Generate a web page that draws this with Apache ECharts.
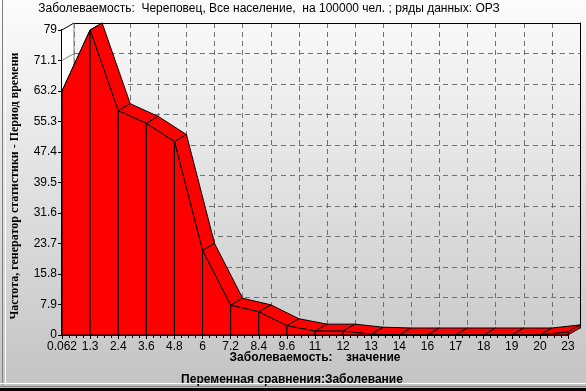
<!DOCTYPE html>
<html><head><meta charset="utf-8">
<script src="https://cdn.jsdelivr.net/npm/echarts@6/dist/echarts.min.js"></script>
<style>html,body{margin:0;padding:0;background:#fff}#c{width:586px;height:391px;}</style>
</head><body><div id="c"></div>
<script>
const categories = ['0.062','1.3','2.4','3.6','4.8','6','7.2','8.4','9.6','11','12','13','14','16','17','18','19','20','23'];
const values = [63.2, 79, 58.1, 54.8, 50.1, 21.9, 7.7, 6.0, 2.4, 1.0, 1.0, 0.2, 0, 0, 0, 0, 0, 0, 0.8];
const yTicks = [0, 7.9, 15.8, 23.7, 31.6, 39.5, 47.4, 55.3, 63.2, 71.1, 79];
const titleText = 'Заболеваемость:  Череповец, Все население,  на 100000 чел. ; ряды данных: ОРЗ';
const yName = 'Частота, генератор статистики - Период времени';
const xName = 'Заболеваемость:    значение';
const xName2 = 'Переменная сравнения:Заболевание';

const DX = 12, DY = -7;
const RED = '#ff0000';
const yMax = yTicks[yTicks.length - 1];
const nCat = categories.length;
const segData = values.map((v, i) => [i, v, i + 1 < values.length ? values[i + 1] : v, i + 1 < values.length ? 1 : 0]);
const fmtY = v => String(+(+v).toFixed(1));

const chart = echarts.init(document.getElementById('c'), null, {renderer: 'canvas'});
const off = p => [p[0] + DX, p[1] + DY];

chart.setOption({
  animation: false,
  backgroundColor: new echarts.graphic.LinearGradient(0, 0, 0, 1, [
    {offset: 0, color: '#fcfcfc'}, {offset: 1, color: '#c3c3c3'}
  ]),
  grid: [
    {left: 62, right: 18, top: 30, bottom: 56},
    {left: 74, right: 6, top: 23, bottom: 63}
  ],
  xAxis: [
    {gridIndex: 0, type: 'value', min: 0, max: nCat - 1, interval: 1,
     axisLine: {show: true, onZero: false, lineStyle: {color: '#000', width: 1}},
     axisTick: {show: true, length: 4, lineStyle: {color: '#000'}},
     minorTick: {show: true, splitNumber: 4, length: 3, lineStyle: {color: '#000'}},
     axisLabel: {formatter: v => categories[Math.round(v)], color: '#000', fontSize: 12, margin: 6,
                 fontFamily: 'Liberation Sans', showMinLabel: true, showMaxLabel: true},
     splitLine: {show: false}},
    {gridIndex: 1, type: 'value', min: 0, max: nCat - 1, interval: 1, position: 'top',
     axisLine: {show: true, onZero: false, lineStyle: {color: '#000', width: 1}},
     axisTick: {show: false}, axisLabel: {show: false},
     splitLine: {show: true, lineStyle: {color: '#707070', type: [5, 4], width: 1}}}
  ],
  yAxis: [
    {gridIndex: 0, type: 'value', min: 0, max: yMax, interval: yTicks[1],
     axisLine: {show: true, onZero: false, lineStyle: {color: '#000', width: 2}},
     axisTick: {show: true, length: 4, lineStyle: {color: '#000'}},
     axisLabel: {formatter: fmtY, color: '#000', fontSize: 12, margin: 5, fontFamily: 'Liberation Sans'},
     splitLine: {show: false}},
    {gridIndex: 1, type: 'value', min: 0, max: yMax, interval: yTicks[1], position: 'right',
     axisLine: {show: true, onZero: false, lineStyle: {color: '#000', width: 1}},
     axisTick: {show: false}, axisLabel: {show: false},
     splitLine: {show: true, lineStyle: {color: '#707070', type: [5, 4], width: 1}}}
  ],
  series: [
    { // left wall
      type: 'custom', xAxisIndex: 0, yAxisIndex: 0, z: 3, clip: false, silent: true,
      data: yTicks.map(t => [0, t]),
      renderItem: (params, api) => {
        const p = api.coord([0, api.value(1)]);
        const children = [];
        if (params.dataIndex === 0) {
          const b = api.coord([0, 0]), t = api.coord([0, yMax]);
          children.push({type: 'polygon', shape: {points: [t, off(t), off(b), b]},
                         style: {fill: '#ffffff', stroke: null}});
          children.push({type: 'line', shape: {x1: off(t)[0], y1: off(t)[1], x2: off(b)[0], y2: off(b)[1]},
                         style: {stroke: '#808080', lineWidth: 1}});
        }
        const top = api.value(1) === yMax;
        children.push({type: 'line', shape: {x1: p[0], y1: p[1], x2: off(p)[0], y2: off(p)[1]},
                       style: {stroke: top ? '#000' : '#808080', lineWidth: 1}});
        return {type: 'group', children};
      }
    },
    { // top faces and end cap
      type: 'custom', xAxisIndex: 0, yAxisIndex: 0, z: 4, clip: false, silent: true,
      data: segData,
      renderItem: (params, api) => {
        const i = api.value(0);
        const p0 = api.coord([i, api.value(1)]);
        let pts;
        if (api.value(3)) {
          const p1 = api.coord([i + 1, api.value(2)]);
          pts = [p0, p1, off(p1), off(p0)];
        } else {
          const b = api.coord([i, 0]);
          pts = [p0, off(p0), off(b), b];
        }
        return {type: 'polygon', shape: {points: pts},
                style: {fill: RED, stroke: '#000', lineWidth: 1}};
      }
    },
    { // front faces
      type: 'custom', xAxisIndex: 0, yAxisIndex: 0, z: 5, clip: false, silent: true,
      data: segData.filter(d => d[3]),
      renderItem: (params, api) => {
        const i = api.value(0);
        const p0 = api.coord([i, api.value(1)]);
        const p1 = api.coord([i + 1, api.value(2)]);
        const b0 = api.coord([i, 0]), b1 = api.coord([i + 1, 0]);
        return {type: 'polygon', shape: {points: [p0, p1, b1, b0]},
                style: {fill: RED, stroke: '#000', lineWidth: 1}};
      }
    }
  ],
  graphic: [
    {type: 'text', x: 269, y: 9, z: 10,
     style: {text: titleText, font: '12px "Liberation Sans"', fill: '#000',
             textAlign: 'center', textVerticalAlign: 'middle', align: 'center', verticalAlign: 'middle'}},
    {type: 'text', x: 15, y: 186, rotation: Math.PI / 2, z: 10,
     style: {text: yName, font: 'bold 12px "Liberation Serif"', fill: '#000',
             textAlign: 'center', textVerticalAlign: 'middle', align: 'center', verticalAlign: 'middle'}},
    {type: 'text', x: 315, y: 358, z: 10,
     style: {text: xName, font: 'bold 12px "Liberation Sans"', fill: '#000',
             textAlign: 'center', textVerticalAlign: 'middle', align: 'center', verticalAlign: 'middle'}},
    {type: 'text', x: 292, y: 380, z: 10,
     style: {text: xName2, font: 'bold 12px "Liberation Sans"', fill: '#000',
             textAlign: 'center', textVerticalAlign: 'middle', align: 'center', verticalAlign: 'middle'}},
    {type: 'line', z: 10, shape: {x1: 2.5, y1: 0, x2: 2.5, y2: 385}, style: {stroke: '#808080', lineWidth: 1}},
    {type: 'line', z: 10, shape: {x1: 5.5, y1: 0, x2: 5.5, y2: 384}, style: {stroke: '#ffffff', lineWidth: 1}},
    {type: 'line', z: 10, shape: {x1: 0, y1: 383.5, x2: 586, y2: 383.5}, style: {stroke: '#ffffff', lineWidth: 1}},
    {type: 'line', z: 10, shape: {x1: 0, y1: 386.5, x2: 586, y2: 386.5}, style: {stroke: '#808080', lineWidth: 1}},
    {type: 'rect', z: 10, shape: {x: 0, y: 388, width: 586, height: 3}, style: {fill: '#000'}}
  ]
});
</script></body></html>
